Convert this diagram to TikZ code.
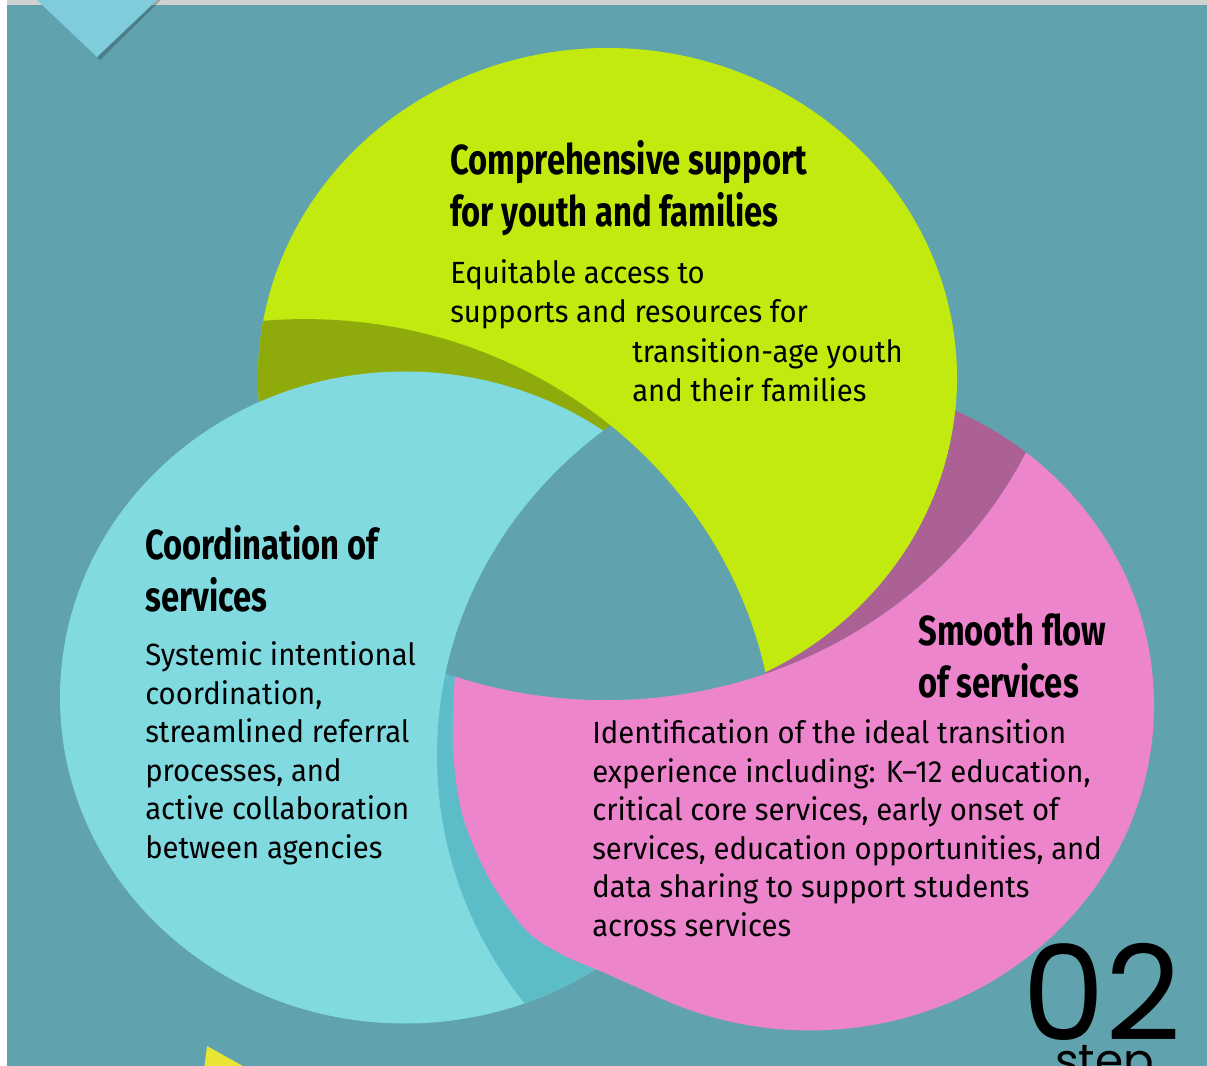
\documentclass[tikz,border=0pt]{standalone}
\usepackage{fontspec}
\setmainfont{Fira Sans}
\newfontfamily\headfont{Fira Sans}[FakeStretch=0.78]
\newfontfamily\bodyfont{Fira Sans}[FakeStretch=0.955]
\newfontfamily\stepfont{Poppins}
\usetikzlibrary{positioning}

\definecolor{panelteal}{RGB}{96,163,174}
\definecolor{limefill}{RGB}{194,234,15}
\definecolor{olivefill}{RGB}{143,170,11}
\definecolor{cyanfill}{RGB}{128,218,223}
\definecolor{cyandark}{RGB}{92,188,200}
\definecolor{pinkfill}{RGB}{237,133,204}
\definecolor{pinkdark}{RGB}{171,97,148}
\definecolor{tabblue}{RGB}{127,204,220}
\definecolor{tabyellow}{RGB}{232,229,52}

\tikzset{
  head/.style = {anchor=base west, align=left, inner sep=0pt,
                 font=\headfont\bfseries\fontsize{31.5}{39}\selectfont},
  body/.style = {anchor=base west, align=left, inner sep=0pt,
                 font=\bodyfont\fontsize{23}{28.9}\selectfont},
  steptext/.style = {anchor=base west, inner sep=0pt},
}

\begin{document}
\begin{tikzpicture}[x=0.75pt, y=-0.75pt]
\useasboundingbox (0,0) rectangle (1207,1066);
\clip (0,0) rectangle (1207,1066);

% page and panel
\fill[white] (0,0) rectangle (1207,1066);
\fill[black!18] (7,0) rectangle (1207,5);
\fill[panelteal] (7,5) rectangle (1207,1066);
\fill[black, opacity=0.22] (41,0) -- (161,0) -- (100,60) -- cycle;
\fill[tabblue] (37,0) -- (157,0) -- (97,57) -- cycle;
\fill[tabyellow] (207,1046) -- (250,1070) -- (204,1070) -- cycle;

% lime ring
\fill[limefill] (607.5,378) ellipse [x radius=349.5, y radius=330];
\begin{scope}
  \clip (607.5,378) ellipse [x radius=349.5, y radius=330];
  \fill[olivefill] (305,762.8) ellipse [x radius=470, y radius=443.7];
\end{scope}

% cyan ring
\fill[cyanfill] (405,697.5) ellipse [x radius=345, y radius=326];
\begin{scope}
  \clip (405,697.5) ellipse [x radius=345, y radius=326];
  \fill[cyandark] (875,755.2) ellipse [x radius=438, y radius=413.5];
\end{scope}

% pink ring
\begin{scope}
  \clip (810,705.4) ellipse [x radius=344, y radius=325];
  \fill[pinkfill, even odd rule] (0,0) rectangle (1207,1066)
    (606,259) ellipse [x radius=467, y radius=441];
  \clip (606,259) ellipse [x radius=467, y radius=441];
  \fill[pinkdark, even odd rule] (0,0) rectangle (1207,1066)
    (607.5,378) ellipse [x radius=349.5, y radius=330];
\end{scope}
\fill[pinkfill] (455,672) -- plot[smooth] coordinates {(455,672) (453,750) (463,817)
  (490,880) (528,932) (565,956) (605,973) (650,993) (700,1013)} -- (700,900) -- (520,700) -- cycle;

% open middle
\begin{scope}
  \clip (875,755.2) ellipse [x radius=438, y radius=413.5];
  \clip (305,762.8) ellipse [x radius=470, y radius=443.7];
  \fill[panelteal] (606,259) ellipse [x radius=467, y radius=441];
\end{scope}

% texts (base = last line)
\node[head] (limehead) at (450,227) {Comprehensive support\\for youth and families};
\node[body] (limebody) at (450,322.5) {Equitable access to\\supports and resources for};
\node[body] (limebody2) at (632,401.5) {transition-age youth\\and their families};

\node[head] (cyanhead) at (145,611) {Coordination of\\services};
\node[body] (cyanbody) at (145,858.5) {Systemic intentional\\coordination,\\streamlined referral\\processes, and\\active collaboration\\between agencies};

\node[head] (pinkhead) at (918,697) {Smooth flow\\of services};
\node[body] (pinkbody) at (592,936.5) {Identification of the ideal transition\\experience including: K–12 education,\\critical core services, early onset of\\services, education opportunities, and\\data sharing to support students\\across services};

\node[steptext, font=\stepfont\fontsize{99}{99}\selectfont] (stepnum) at (1022,1040) {02};
\node[steptext, font=\stepfont\fontsize{34}{34}\selectfont] (steplabel) at (1055,1076) {step};
\end{tikzpicture}
\end{document}
